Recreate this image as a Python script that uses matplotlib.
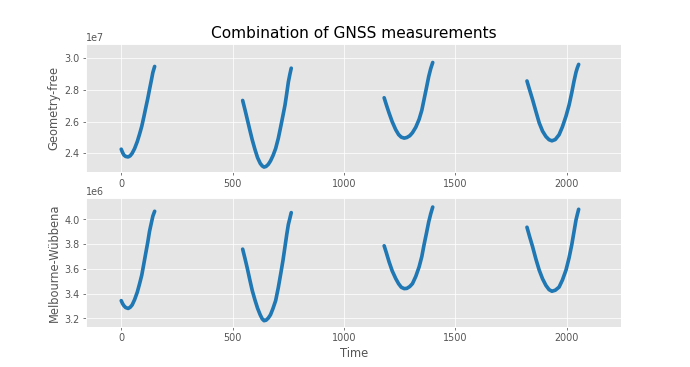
import matplotlib
matplotlib.use('Agg')
import matplotlib.pyplot as plt

# arcos de satelite: tiempo, geometry-free (x1e7), melbourne-wubbena (x1e6)
t_arcs = [
    [0, 6, 12, 20, 31, 40, 49, 60, 72, 82, 92, 101, 110, 119, 127, 135, 142, 150],
    [545, 556, 566, 577, 588, 600, 612, 624, 633, 641, 650, 660, 670, 681, 693,
     705, 716, 726, 735, 743, 750, 757, 763],
    [1180, 1190, 1202, 1216, 1232, 1245, 1257, 1270, 1282, 1295, 1307, 1322,
     1337, 1349, 1359, 1370, 1380, 1389, 1398],
    [1821, 1833, 1846, 1861, 1876, 1891, 1906, 1920, 1933, 1948, 1965, 1980,
     1996, 2010, 2022, 2032, 2041, 2047, 2053],
]
gf_arcs = [
    [2.426, 2.405, 2.389, 2.380, 2.377, 2.384, 2.400, 2.430, 2.474, 2.520,
     2.570, 2.627, 2.687, 2.746, 2.804, 2.860, 2.911, 2.949],
    [2.734, 2.672, 2.613, 2.548, 2.485, 2.425, 2.372, 2.336, 2.320, 2.313,
     2.317, 2.330, 2.352, 2.385, 2.430, 2.495, 2.570, 2.640, 2.705, 2.780,
     2.850, 2.900, 2.938],
    [2.751, 2.706, 2.655, 2.600, 2.549, 2.518, 2.502, 2.496, 2.500, 2.511,
     2.530, 2.565, 2.615, 2.672, 2.740, 2.815, 2.885, 2.935, 2.974],
    [2.857, 2.800, 2.740, 2.665, 2.592, 2.540, 2.506, 2.486, 2.479, 2.487,
     2.517, 2.567, 2.634, 2.705, 2.783, 2.855, 2.912, 2.940, 2.962],
]
mw_arcs = [
    [3.344, 3.320, 3.303, 3.288, 3.281, 3.290, 3.309, 3.352, 3.412, 3.478,
     3.549, 3.637, 3.727, 3.815, 3.904, 3.970, 4.027, 4.066],
    [3.760, 3.680, 3.604, 3.513, 3.426, 3.350, 3.282, 3.228, 3.196, 3.182,
     3.186, 3.203, 3.230, 3.280, 3.344, 3.450, 3.563, 3.670, 3.781, 3.880,
     3.959, 4.010, 4.055],
    [3.787, 3.730, 3.658, 3.585, 3.522, 3.480, 3.452, 3.441, 3.443, 3.458,
     3.481, 3.540, 3.617, 3.700, 3.795, 3.890, 3.980, 4.045, 4.100],
    [3.937, 3.860, 3.781, 3.680, 3.590, 3.520, 3.467, 3.433, 3.420, 3.428,
     3.453, 3.510, 3.590, 3.690, 3.795, 3.900, 3.995, 4.040, 4.082],
]

plt.style.use('ggplot')
fig, (ax1, ax2) = plt.subplots(2, 1, figsize=(10, 5.32), dpi=69)

for t, gf, mw in zip(t_arcs, gf_arcs, mw_arcs):
    ax1.plot(t, [v * 1e7 for v in gf], color='#1f77b4', lw=3.8,
             solid_capstyle='round', solid_joinstyle='round')
    ax2.plot(t, [v * 1e6 for v in mw], color='#1f77b4', lw=3.8,
             solid_capstyle='round', solid_joinstyle='round')

ax1.set_title('Combination of GNSS measurements', fontsize=16)
ax1.set_ylabel('Geometry-free')
ax2.set_ylabel('Melbourne-Wübbena')
ax2.set_xlabel('Time')

ax1.set_xlim(-157, 2243)
ax2.set_xlim(-157, 2243)
ax1.set_ylim(2.279e7, 3.091e7)
ax2.set_ylim(3.134e6, 4.172e6)

plt.savefig('out.png')
